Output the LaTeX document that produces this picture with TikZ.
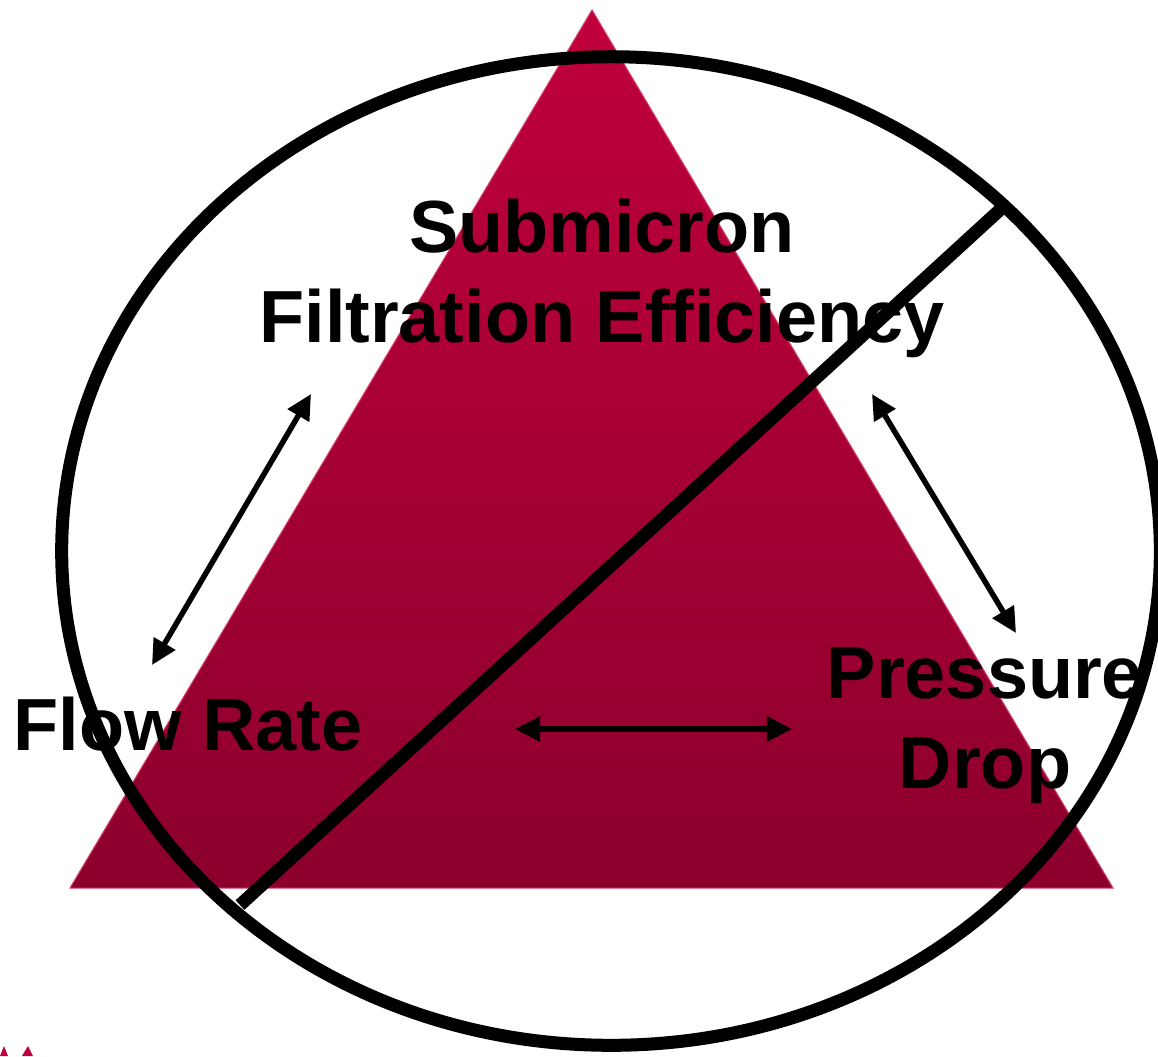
\documentclass[tikz,border=0pt]{standalone}
\usepackage{fontspec}
\setmainfont{Liberation Sans}
\usetikzlibrary{arrows.meta}
\definecolor{triatop}{RGB}{192,0,60}
\definecolor{triabot}{RGB}{140,0,45}
\definecolor{triaedge}{RGB}{215,60,105}

\begin{document}
\begin{tikzpicture}[x=0.01cm, y=-0.01cm,
    every node/.style={font=\fontsize{21}{25.6}\selectfont\bfseries, inner sep=0pt},
    link/.style={line width=0.055cm, {Triangle[length=0.25cm,width=0.24cm]}-{Triangle[length=0.25cm,width=0.24cm]}},
    ring/.style={line width=0.13cm}]
        \useasboundingbox (0,0) rectangle (1158,1056);
        % triangle
        \shade[top color=triatop, bottom color=triabot, draw=triaedge, line width=0.3pt] (592,10) -- (1113,888) -- (70,888) -- cycle;
        \fill[triatop] (0,1056) -- (4,1046) -- (8,1056) -- cycle;
        \fill[triatop] (22,1056) -- (28,1046) -- (33,1056) -- cycle;
        % labels
        \node[align=center] (eff) at (602,278) {Submicron\\Filtration Efficiency};
        \node[anchor=base] (flow) at (188,750) {Flow Rate};
        \node[align=center] (press) at (985,726) {Pressure\\Drop};
        % arrows
        \coordinate (effL) at (311,394); \coordinate (flowT) at (152,665);
        \coordinate (effR) at (872,394); \coordinate (pressT) at (1016,633);
        \coordinate (flowR) at (515,729); \coordinate (pressL) at (792,729);
        \draw[link] (effL) -- (flowT);
        \draw[link] (effR) -- (pressT);
        \draw[link] (flowR) -- (pressL);
        % ring and slash
        \draw[ring] (611,551) ellipse [x radius=5.49cm, y radius=4.94cm];
        \coordinate (slashA) at (240,905); \coordinate (slashB) at (1003,207);
        \draw[ring] (slashA) -- (slashB);
      \end{tikzpicture}
\end{document}
